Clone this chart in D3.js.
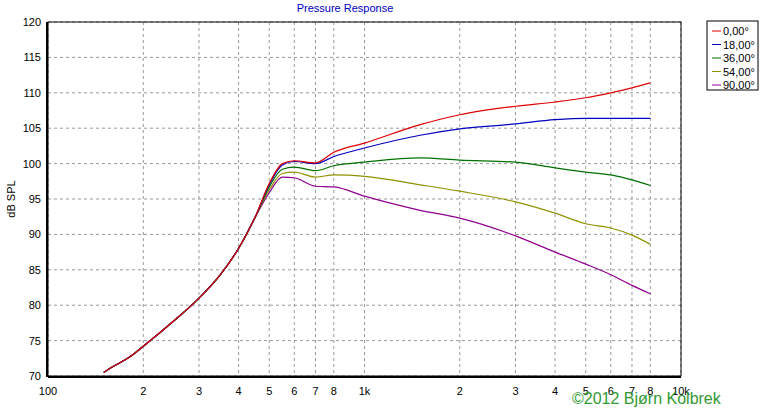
<!DOCTYPE html><html><head><meta charset="utf-8"><script src="https://cdn.jsdelivr.net/npm/d3@7"></script>
<style>body{margin:0;background:#fff}text{font-family:"Liberation Sans",Arial,sans-serif}</style></head><body><svg id="c" width="766" height="408"></svg><script>
const freqs=[150,160,180,200,250,300,350,400,450,500,550,600,700,800,1000,1500,2000,3000,4000,5000,6000,7000,8000];
const base=[70.5,71.3,72.6,74.2,77.8,81,84.3,88,92.3];
const seriesNames=["0,00°","18,00°","36,00°","54,00°","90,00°"];
const colors=["#e00000","#0000c0","#007000","#909000","#900090"];
const tail=[
 [97.2,100,100.4,100.1,101.6,102.9,105.5,106.9,108.1,108.7,109.3,110,110.7,111.4],
 [97,99.8,100.3,100,101,102.2,104,104.9,105.6,106.2,106.4,106.4,106.4,106.4],
 [96.7,99.2,99.5,99,99.7,100.2,100.8,100.5,100.2,99.4,98.8,98.4,97.7,96.9],
 [96.3,98.6,98.8,98.1,98.4,98.2,97,96.1,94.6,93,91.5,90.9,89.9,88.6],
 [95.9,98.1,98,96.8,96.7,95.4,93.4,92.3,89.8,87.5,85.8,84.3,82.8,81.6]];
const yTicks=[70,75,80,85,90,95,100,105,110,115,120];
const xTicks=[100,200,300,400,500,600,700,800,1000,2000,3000,4000,5000,6000,7000,8000,10000];
const xLabels=["100","2","3","4","5","6","7","8","1k","2","3","4","5","6","7","8","10k"];
const svg=d3.select("#c");
const x=d3.scaleLog().domain([100,10000]).range([48,681]);
const y=d3.scaleLinear().domain([70,120]).range([376,22]);
const g=svg.append("g");
xTicks.forEach(t=>g.append("line").attr("x1",x(t)).attr("x2",x(t)).attr("y1",22).attr("y2",376).attr("stroke","#999").attr("stroke-dasharray","3,3"));
yTicks.forEach(t=>g.append("line").attr("x1",48).attr("x2",681).attr("y1",y(t)).attr("y2",y(t)).attr("stroke","#999").attr("stroke-dasharray","3,3"));
g.append("rect").attr("x",48).attr("y",22).attr("width",633).attr("height",354).attr("fill","none").attr("stroke","#000");
g.append("line").attr("x1",48).attr("x2",681).attr("y1",377).attr("y2",377).attr("stroke","#000").attr("stroke-width",2);
g.append("line").attr("x1",47).attr("x2",47).attr("y1",22).attr("y2",377).attr("stroke","#000").attr("stroke-width",2);
yTicks.forEach(t=>g.append("text").attr("x",41).attr("y",y(t)+4).attr("text-anchor","end").attr("font-size",11).text(t));
xTicks.forEach((t,i)=>g.append("text").attr("x",x(t)).attr("y",395).attr("text-anchor","middle").attr("font-size",11).text(xLabels[i]));
svg.append("text").attr("x",345).attr("y",12).attr("text-anchor","middle").attr("font-size",11).attr("fill","#0000c0").text("Pressure Response");
svg.append("text").attr("transform","translate(15,199) rotate(-90)").attr("text-anchor","middle").attr("font-size",11).text("dB SPL");
const line=d3.line().x(d=>x(d[0])).y(d=>y(d[1])).curve(d3.curveMonotoneX);
[4,3,2,1,0].forEach(i=>{const vals=base.concat(tail[i]);
 g.append("path").attr("d",line(freqs.map((f,j)=>[f,vals[j]]))).attr("fill","none").attr("stroke",colors[i]).attr("stroke-width",1.2);});
const lg=svg.append("g");
lg.append("rect").attr("x",707).attr("y",21).attr("width",51).attr("height",69).attr("fill","#fff").attr("stroke","#000");
seriesNames.forEach((n,i)=>{const yy=31+i*13.5;
 lg.append("line").attr("x1",712).attr("x2",721).attr("y1",yy).attr("y2",yy).attr("stroke",colors[i]);
 lg.append("text").attr("x",723).attr("y",yy+4).attr("font-size",11).text(n);});
svg.append("text").attr("x",572).attr("y",404).attr("font-size",16).attr("fill","#339933").text("©2012 Bjørn Kolbrek");
</script></body></html>
